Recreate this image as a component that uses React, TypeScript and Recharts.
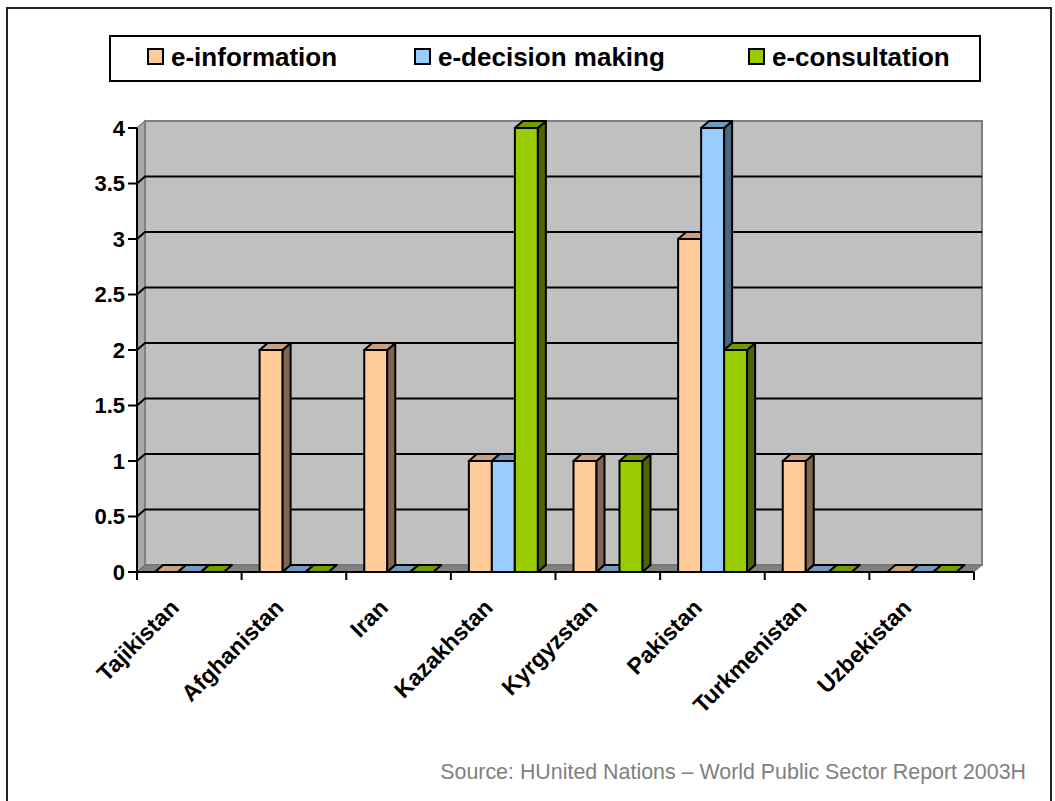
import React from 'react';
import { BarChart, Bar, XAxis, YAxis, ReferenceArea } from 'recharts';

const CATEGORIES = ['Tajikistan', 'Afghanistan', 'Iran', 'Kazakhstan', 'Kyrgyzstan', 'Pakistan', 'Turkmenistan', 'Uzbekistan'];
const E_INFORMATION = [0, 2, 2, 1, 1, 3, 1, 0];
const E_DECISION = [0, 0, 0, 1, 0, 4, 0, 0];
const E_CONSULTATION = [0, 0, 0, 4, 1, 2, 0, 0];
const Y_TICKS = [0, 0.5, 1, 1.5, 2, 2.5, 3, 3.5, 4];
const Y_MAX = 4;

const SERIES = [
  { key: 'info', name: 'e-information', front: '#FFCC99', top: '#C9A07A', side: '#806650' },
  { key: 'decision', name: 'e-decision making', front: '#99CCFF', top: '#7399BF', side: '#4D6680' },
  { key: 'consultation', name: 'e-consultation', front: '#99CC00', top: '#739900', side: '#4D6600' },
];

const data = CATEGORIES.map((name, i) => ({
  name,
  info: E_INFORMATION[i],
  decision: E_DECISION[i],
  consultation: E_CONSULTATION[i],
}));

const FONT = '"Liberation Sans", Arial, sans-serif';
const DX = 8;
const DY = -7;
const W = 1055;
const H = 801;
const PLOT_W = 837;

// back wall, left side wall, floor and the grid drawn on the back wall
const Walls = (props: any) => {
  const { x, y, width, height } = props;
  if (x == null) return null;
  const bottom = y + height;
  return (
    <g>
      <polygon
        points={`${x},${y} ${x + DX},${y + DY} ${x + DX},${bottom + DY} ${x},${bottom}`}
        fill="#A9A9A9"
        stroke="#808080"
        strokeWidth={1.5}
      />
      <rect x={x + DX} y={y + DY} width={width} height={height} fill="#C0C0C0" stroke="#808080" strokeWidth={2} />
      <polygon
        points={`${x},${bottom} ${x + DX},${bottom + DY} ${x + width + DX},${bottom + DY} ${x + width},${bottom}`}
        fill="#808080"
        stroke="#6E6E6E"
        strokeWidth={1}
      />
      {Y_TICKS.filter((t) => t > 0 && t < Y_MAX).map((t) => {
        const ty = y + height * (1 - t / Y_MAX);
        return (
          <polyline
            key={t}
            points={`${x},${ty} ${x + DX},${ty + DY} ${x + width + DX},${ty + DY}`}
            fill="none"
            stroke="#000"
            strokeWidth={2}
          />
        );
      })}
    </g>
  );
};

const make3DBar = (front: string, top: string, side: string) => (props: any) => {
  const { x, y, width, height } = props;
  if (x == null || y == null) return <g />;
  const h = Math.max(height || 0, 0);
  const w = width;
  return (
    <g>
      {h > 0 && (
        <rect x={x} y={y} width={w} height={h} fill={front} stroke="#000" strokeWidth={2} />
      )}
      {h > 0 && (
        <polygon
          points={`${x + w},${y} ${x + w + DX},${y + DY} ${x + w + DX},${y + h + DY} ${x + w},${y + h}`}
          fill={side}
          stroke="#000"
          strokeWidth={2}
          strokeLinejoin="round"
        />
      )}
      <polygon
        points={`${x},${y} ${x + DX},${y + DY} ${x + w + DX},${y + DY} ${x + w},${y}`}
        fill={top}
        stroke="#000"
        strokeWidth={2}
        strokeLinejoin="round"
      />
    </g>
  );
};

const XTick = (props: any) => {
  const { x, y, payload, index } = props;
  const off = payload && payload.offset ? payload.offset : PLOT_W / CATEGORIES.length / 2;
  const ax = x - 9;
  const ay = y + 29;
  return (
    <g>
      <line x1={x - off} y1={y - 8} x2={x - off} y2={y} stroke="#000" strokeWidth={2} />
      {index === CATEGORIES.length - 1 && (
        <line x1={x + off} y1={y - 8} x2={x + off} y2={y} stroke="#000" strokeWidth={2} />
      )}
      <text
        x={ax}
        y={ay}
        textAnchor="end"
        transform={`rotate(-45, ${ax}, ${ay})`}
        fontFamily={FONT}
        fontWeight="bold"
        fontSize={23}
        fill="#000"
      >
        {payload.value}
      </text>
    </g>
  );
};

const LEGEND_POS = [147, 414, 748];

export default function App() {
  return (
    <div style={{ position: 'absolute', left: 0, top: 0, width: W, height: H, overflow: 'hidden', background: '#fff' }}>
      <div
        style={{
          position: 'absolute',
          left: 6,
          top: 7,
          width: 1046,
          height: 820,
          border: '2px solid #222',
          boxSizing: 'border-box',
        }}
      />
      <div
        style={{
          position: 'absolute',
          left: 109,
          top: 35,
          width: 872,
          height: 47,
          border: '2px solid #000',
          boxSizing: 'border-box',
          background: '#fff',
        }}
      />
      {SERIES.map((s, i) => (
        <div key={s.key}>
          <div
            style={{
              position: 'absolute',
              left: LEGEND_POS[i],
              top: 48,
              width: 17,
              height: 17,
              background: s.front,
              border: '2px solid #000',
              boxSizing: 'border-box',
            }}
          />
          <div
            style={{
              position: 'absolute',
              left: LEGEND_POS[i] + 24,
              top: 40,
              fontFamily: FONT,
              fontWeight: 'bold',
              fontSize: 26,
              lineHeight: '34px',
              color: '#000',
              whiteSpace: 'nowrap',
            }}
          >
            {s.name}
          </div>
        </div>
      ))}
      <div
        style={{
          position: 'absolute',
          right: 29,
          top: 759,
          fontFamily: FONT,
          fontSize: 21.4,
          lineHeight: '26px',
          color: '#808080',
          whiteSpace: 'nowrap',
        }}
      >
        Source: HUnited Nations – World Public Sector Report 2003H
      </div>
      <div style={{ position: 'absolute', left: 0, top: 0 }}>
        <BarChart
          width={W}
          height={H}
          data={data}
          margin={{ top: 128, right: 81, bottom: 189, left: 67 }}
          barGap={0}
          barSize={23}
        >
          <ReferenceArea y1={0} y2={Y_MAX} shape={<Walls />} ifOverflow="visible" />
          <XAxis
            dataKey="name"
            interval={0}
            height={40}
            tickSize={8}
            tickMargin={0}
            tickLine={false}
            axisLine={{ stroke: '#000', strokeWidth: 2 }}
            tick={<XTick />}
          />
          <YAxis
            width={70}
            domain={[0, Y_MAX]}
            ticks={Y_TICKS}
            interval={0}
            tickSize={9}
            tickMargin={3}
            axisLine={{ stroke: '#000', strokeWidth: 2 }}
            tickLine={{ stroke: '#000', strokeWidth: 2 }}
            tick={{ fontFamily: FONT, fontWeight: 'bold', fontSize: 22, fill: '#000' }}
          />
          {SERIES.map((s) => (
            <Bar
              key={s.key}
              dataKey={s.key}
              name={s.name}
              fill={s.front}
              isAnimationActive={false}
              shape={make3DBar(s.front, s.top, s.side)}
            />
          ))}
        </BarChart>
      </div>
    </div>
  );
}
